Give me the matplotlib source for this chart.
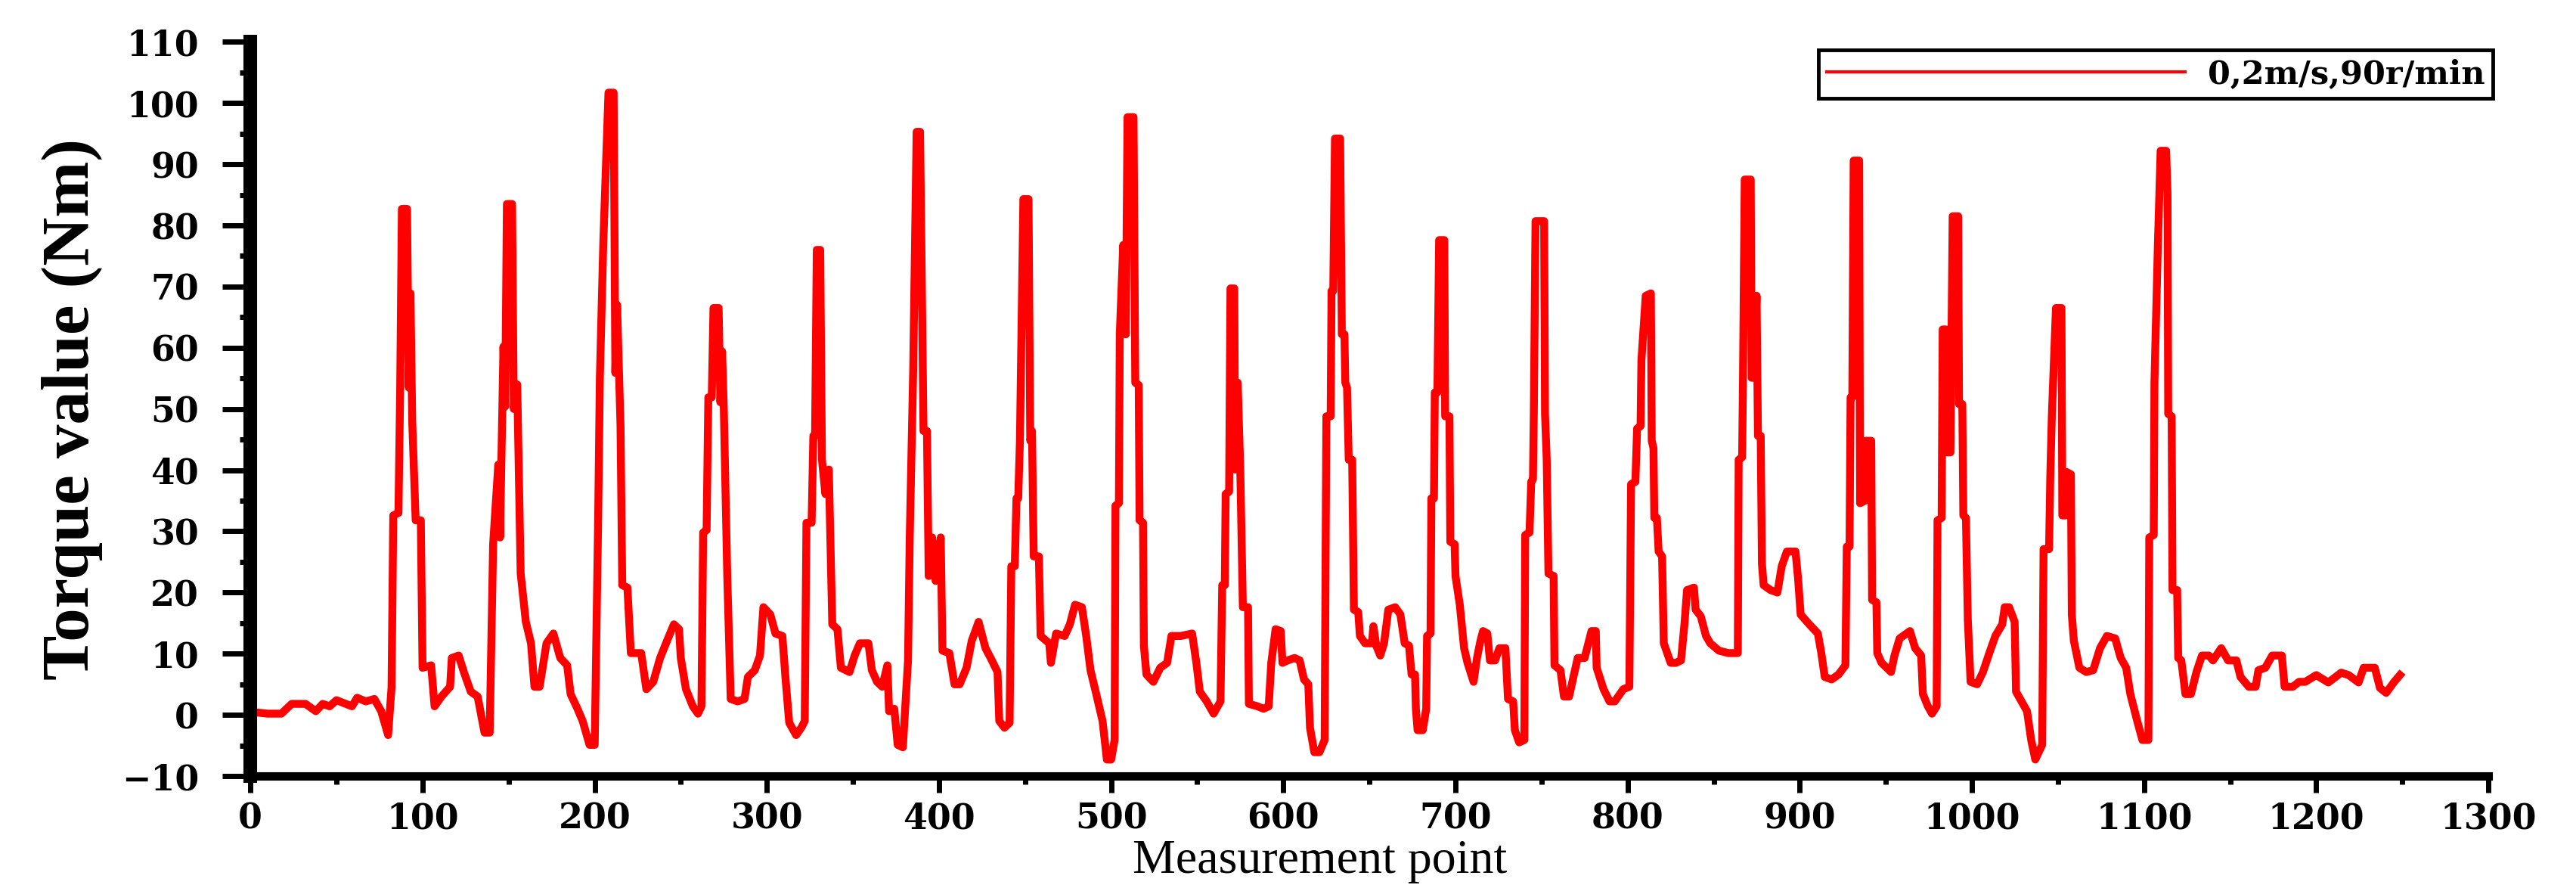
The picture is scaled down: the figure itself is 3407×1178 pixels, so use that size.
import matplotlib
matplotlib.use("Agg")
import matplotlib.pyplot as plt
from matplotlib.ticker import MultipleLocator

point = [
    0, 10, 18, 24, 32, 38, 42, 46, 50, 59,
    62, 67, 72, 76, 80, 82, 83, 86, 87, 88,
    91, 92, 93, 94, 96, 99, 100, 105, 107, 111,
    116, 117, 121, 124, 128, 132, 136, 139, 141, 144,
    145, 147, 148, 149, 152, 153, 155, 157, 160, 163,
    165, 168, 172, 176, 180, 184, 186, 190, 193, 197,
    200, 202, 203, 205, 208, 211, 212, 213, 215, 216,
    219, 221, 227, 230, 234, 238,
    242, 246, 249, 250, 253, 257, 260, 262, 263, 265,
    266, 268, 269, 272, 273, 274, 275, 277, 279, 283,
    287, 289, 293, 296, 298, 302, 305, 309, 311, 313,
    317, 320, 322, 323, 326, 327, 328, 329, 331, 332,
    334, 336, 338, 341, 343, 348, 351, 354, 359, 361,
    364, 367, 370, 371, 374, 376, 379, 382, 383, 385,
    387, 389, 391, 393, 394, 396, 398, 401, 402, 406,
    409, 412, 416, 419, 423, 427, 430, 434, 435, 438,
    441, 442, 444, 445, 446, 447, 449, 452, 453, 454,
    455, 458, 459, 464, 465, 468, 473, 476,
    479, 483, 485.5, 488, 491, 495, 497.5, 500, 502, 502.5,
    504.5, 505, 507, 508.5, 509.5, 513, 514, 516, 516.5, 518.5,
    519, 520.5, 524.5, 528.5, 532.5, 535, 540.5, 547, 549.5, 551.5,
    555.5, 559.5, 563.5, 564.5, 566, 566.5, 568.5, 569.3, 571.5, 572,
    573.5, 575, 576.5, 579.5, 580, 585, 588.5, 591.5, 593, 595.5,
    598.5, 599.5, 602.5, 606.5, 609.5, 612, 614.5, 615.5, 618, 621,
    624, 625, 627.5, 628, 629, 630, 633, 634, 635.5, 636,
    637, 638, 640, 641, 643.5, 644.5, 647.5, 651.5, 652.3, 654,
    656.3, 658.5, 661, 665, 668, 670.5, 673, 674.5, 676.5, 677,
    678, 681, 683, 683.5, 685.5, 686, 687.5, 688, 689.5, 690.5,
    693.5, 694, 696.5, 697, 699.5, 700, 702.5, 705, 707, 710.5,
    712.5, 714.5,
    716, 718.5, 720, 723, 725.5, 729, 730.5, 733.5, 734.5, 737,
    740, 740.5, 743, 744, 745, 745.5, 746.5, 751.5, 752, 753,
    754, 757, 757.5, 761, 763, 766, 768.5, 771, 775, 779,
    781.5, 782, 786, 789.5, 792.5, 797.5, 801, 802, 804.5, 805.5,
    807.5, 808, 810.5, 813.5, 814, 815, 815.5, 817, 818, 820,
    821, 825, 828, 831, 833, 834.5, 838.5, 839.5, 842.5, 845.5,
    848, 853, 858.5, 864, 864.5, 866.5, 867, 868, 871.5, 872,
    873.3, 874.9, 875.7, 877.3, 878, 879, 883, 887, 889.5, 892.5,
    897.5, 899, 900.5, 905.5, 910.5, 912.5, 914.5, 918.5, 922.5, 926.5,
    927.3, 928.9, 929.5, 930.5, 931.3, 934.5, 935, 937.8, 938.3, 941.5,
    942, 944.5, 945, 947.5, 950.5,
    953, 955, 958, 964, 967, 970.5, 971.5, 974.4, 976.8, 979.5,
    980, 982.4, 983, 984.8, 985.5, 987.5, 988.8, 992, 992.5, 994.4,
    995, 996.5, 997.6, 999.2, 1003, 1006.4, 1009.6, 1013.6, 1017.6, 1019,
    1021.6, 1024.8, 1025.6, 1028.8, 1032, 1034.4, 1036.8, 1040.8, 1041.6, 1044.8,
    1045.5, 1046.4, 1048.8, 1052, 1052.5, 1054.4, 1055, 1057.5, 1058, 1059.2,
    1062.4, 1066.4, 1070.4, 1074.4, 1078.4, 1083.2, 1086.4, 1089.6, 1092, 1096,
    1099, 1102.5, 1103, 1105.6, 1106, 1108, 1109.6, 1112.8, 1113.6, 1114,
    1116, 1116.5, 1119.2, 1119.8, 1121.6, 1124, 1127.2, 1130.4, 1133.6, 1137.6,
    1140, 1144.8, 1148.8, 1153.6, 1156, 1160.8, 1164.8, 1166.4, 1170.4, 1174.4,
    1180, 1181.6, 1186.4, 1190, 1193.6, 1200, 1207, 1214.5, 1218.8, 1224.6,
    1227.5, 1234, 1237, 1240.6, 1245, 1248.6,
]
torque = [
    0.5, 0.2, 0.2, 1.8, 1.8, 0.6, 1.8, 1.4, 2.4, 1.4,
    2.8, 2.2, 2.6, 0.6, -3.3, 4.5, 32.6, 33, 53, 82.7,
    82.7, 53.5, 68.9, 48, 31.8, 31.8, 7.7, 8.1, 1.4, 3,
    4.6, 9.3, 9.7, 7, 3.8, 3, -2.9, -2.9, 27.9, 40.9,
    29, 60.2, 50.4, 83.5, 83.5, 50, 54, 23.1, 15.2, 11.7,
    4.6, 4.6, 11.7, 13.3, 9.3, 8.1, 3.4, 1, -1, -4.9,
    -4.9, 31.8, 55.1, 77.2, 101.7, 101.7, 55.9, 67, 47.2, 21.2,
    20.8, 10.1, 10.1, 4.2, 5.4, 9.3,
    12.1, 14.8, 14, 9.3, 4.2, 1.4, 0.2, 1.4, 29.8, 30.2,
    51.9, 51.9, 66.5, 66.5, 51.1, 59.4, 50, 22.7, 2.6, 2.2,
    2.6, 6.2, 7.3, 9.7, 17.6, 16.4, 13.3, 12.9, 5.4, -1.3,
    -3.3, -2.1, -1, 31.4, 31.4, 45.6, 45.6, 76, 76, 41.7,
    36.1, 40.1, 14.8, 14, 7.7, 7, 9.7, 11.7, 11.7, 7.3,
    5.4, 4.6, 8.1, 0.6, 1, -4.9, -5.3, 8.9, 29, 56.3,
    95.3, 95.3, 46.4, 46.4, 22.7, 29, 21.9, 29, 10.5, 10.1,
    5, 5, 7.7, 12.1, 15.2, 10.9, 9.3, 7, -1, -2.1,
    -1.3, 24.3, 24.3, 35.4, 35.4, 44.8, 84.3, 84.3, 44.8, 46.4,
    25.9, 25.9, 12.9, 11.7, 8.5, 13.3, 12.9, 14.8,
    18, 17.6, 12.9, 7.3, 3.8, -1, -7.3, -7.3, -4.1, 34.2,
    34.6, 62.2, 76.8, 62.2, 97.7, 97.7, 54.3, 53.9, 31.8, 31.4,
    11.3, 6.6, 5.4, 7.7, 8.5, 12.9, 12.9, 13.3, 8.5, 3.8,
    2.2, 0.2, 2.2, 21.2, 21.2, 36.1, 36.5, 69.7, 69.7, 40.1,
    54.3, 40.1, 17.6, 17.6, 1.8, 1.4, 1, 1.4, 8.5, 14,
    13.7, 8.5, 8.9, 9.3, 8.9, 5.8, 5, -2.1, -6.1, -6.1,
    -4.1, 48.8, 48.8, 69.3, 69.3, 94.2, 94.2, 62.2, 62.2, 54.3,
    53.5, 41.7, 41.7, 17.2, 16.8, 12.9, 11.7, 11.7, 14.5, 11.3,
    9.7, 11.7, 17.2, 17.6, 16.4, 11.7, 11.3, 6.6, 6.6, 1,
    -2.5, -2.5, 1, 12.9, 13.3, 35.4, 35.4, 52.7, 52.7, 77.6,
    77.6, 48.8, 48.8, 28.3, 27.9, 22.7, 18, 10.9, 8.5, 5.4,
    9.3, 12.1,
    13.7, 13.3, 8.9, 8.9, 10.9, 10.9, 2.6, 2.2, -2.5, -4.5,
    -4.1, 29.4, 29.8, 38.1, 38.5, 49.2, 80.7, 80.7, 49.2, 41.7,
    23.1, 22.7, 8.1, 7.3, 3, 3, 6.2, 9.3, 9.3, 13.7,
    13.7, 7.7, 4.2, 2.2, 2.2, 4.2, 4.6, 37.7, 38.1, 46.8,
    47.2, 57.9, 68.5, 68.9, 44.8, 43.6, 32.2, 32.2, 26.7, 25.9,
    11.7, 8.5, 8.5, 8.9, 14.8, 20.4, 20.8, 17.2, 16.1, 12.9,
    11.7, 10.5, 10.1, 10.1, 41.7, 42.1, 54.7, 87.5, 87.5, 55.1,
    55.1, 68.5, 45.6, 45.6, 24.7, 21.2, 20.4, 20, 24.3, 26.7,
    26.7, 22.3, 16.4, 14.8, 13.3, 10.1, 6.2, 5.8, 6.6, 8.1,
    27.5, 27.5, 51.9, 51.9, 90.6, 90.6, 34.6, 35, 44.8, 44.8,
    18.8, 18.4, 10.1, 8.5, 7.7,
    7, 9.7, 12.5, 13.7, 10.9, 9.7, 3.4, 1.4, 0.2, 1.4,
    31.8, 32.2, 63, 63, 42.9, 42.9, 81.5, 81.5, 50.8, 50.8,
    32.6, 32.2, 15.6, 5.4, 5, 7, 9.7, 12.9, 14.8, 17.6,
    17.6, 15.2, 3.8, 2.2, 0.6, -4.1, -7.3, -4.9, 27.1, 27.1,
    38.9, 48.8, 66.5, 66.5, 32.6, 32.6, 39.7, 39.3, 16.4, 12.1,
    7.7, 7, 7.3, 10.9, 12.9, 12.5, 9.3, 7.7, 3.4, -1,
    -4.1, -4.1, 29, 29.4, 54.3, 76.8, 92.2, 92.2, 85.1, 49.2,
    48.8, 20.4, 20.4, 9.3, 8.9, 3.4, 3.4, 7, 9.7, 9.7,
    8.9, 10.9, 8.9, 8.9, 6.2, 4.6, 4.6, 7.3, 7.7, 9.7,
    9.7, 4.6, 4.6, 5.4, 5.4, 6.5, 5.3, 6.9, 6.5, 5.3,
    7.7, 7.7, 4.4, 3.6, 5.3, 6.5,
]
series_label = "0,2m/s,90r/min"
x_label = "Measurement point"
y_label = "Torque value (Nm)"


fig = plt.figure(figsize=(34.07, 11.78), dpi=100)
ax = fig.add_axes([0.0972, 0.129, 0.8688, 0.824])

ax.plot(point, torque, color="#ff0000", linewidth=7.5, label=series_label)

ax.set_xlim(0, 1300)
ax.set_ylim(-10, 110)
ax.xaxis.set_major_locator(MultipleLocator(100))
ax.xaxis.set_minor_locator(MultipleLocator(50))
ax.yaxis.set_major_locator(MultipleLocator(10))
ax.yaxis.set_minor_locator(MultipleLocator(5))

# only left/bottom axes, drawn heavy like the original
ax.spines["top"].set_visible(False)
ax.spines["right"].set_visible(False)
ax.spines["left"].set_linewidth(13)
ax.spines["bottom"].set_linewidth(8)

ax.tick_params(axis="y", which="major", direction="out", length=27, width=5, pad=22)
ax.tick_params(axis="y", which="minor", direction="out", length=10, width=5)
ax.tick_params(axis="x", which="major", direction="out", length=16, width=5, pad=8)
ax.tick_params(axis="x", which="minor", direction="out", length=8, width=5)

for lab in ax.get_xticklabels() + ax.get_yticklabels():
    lab.set_fontfamily("DejaVu Serif")
    lab.set_fontweight("bold")
    lab.set_fontsize(33)

ax.set_xlabel(x_label, fontfamily="Liberation Serif", fontsize=46)
ax.xaxis.set_label_coords(0.478, -0.086)
ax.set_ylabel(y_label, fontfamily="Liberation Serif", fontweight="bold", fontsize=64)
ax.yaxis.set_label_coords(-0.066, 0.50)

leg = ax.legend(loc="upper right", bbox_to_anchor=(1.002, 0.989), borderaxespad=0,
                prop={"family": "DejaVu Serif", "weight": "bold", "size": 31},
                handlelength=11, handletextpad=0.7, borderpad=0.25,
                fancybox=False, framealpha=1)
leg.get_frame().set_edgecolor("black")
leg.get_frame().set_linewidth(3.5)
for h in leg.get_lines():
    h.set_linewidth(3)

fig.savefig("out.png", dpi=100)
plt.close(fig)
